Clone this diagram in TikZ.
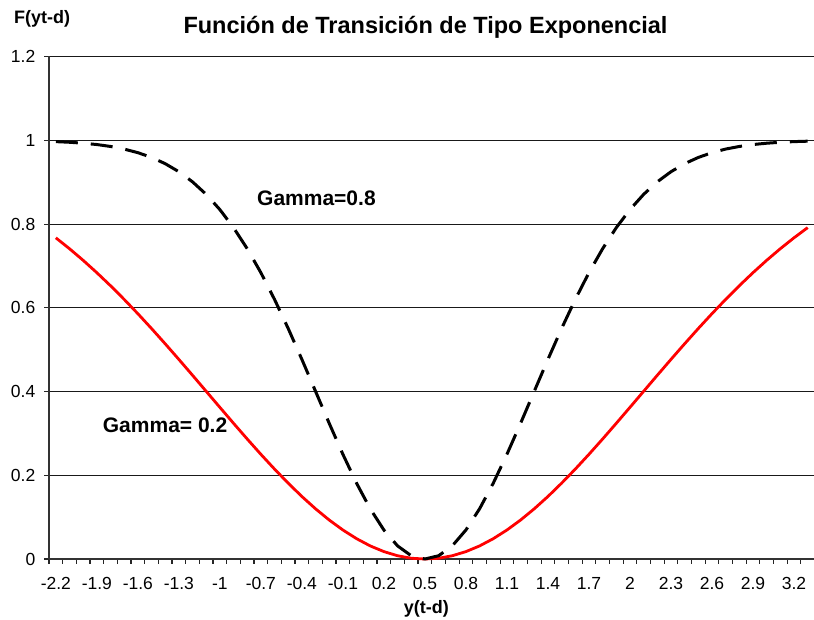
\documentclass[tikz,border=0pt]{standalone}
\usepackage{fontspec}
\setmainfont{Liberation Sans}
\begin{document}
\begin{tikzpicture}[x=1pt,y=-1pt,
  gridline/.style={line width=1.2pt,black!90},
  axisline/.style={line width=1.8pt,black!80},
  tickmark/.style={line width=1.2pt,black!85},
  ticklbl/.style={inner sep=0pt,font=\fontsize{17.5}{19}\selectfont},
  axtitle/.style={inner sep=0pt,font=\fontsize{18}{20}\selectfont\bfseries},
  serlbl/.style={inner sep=0pt,anchor=base west,font=\fontsize{21}{24}\selectfont\bfseries},
  redcurve/.style={red,line width=2.8pt,line join=round},
  dashcurve/.style={black,line width=3pt,line join=round,dash pattern=on 22pt off 13pt}]
\useasboundingbox (0,0) rectangle (814,620);
\fill[white] (0,0) rectangle (814,620);
% horizontal gridlines
\foreach \k in {1,...,6}
  \draw[gridline] (49,{559-83.72*\k}) -- (814,{559-83.72*\k});
% y ticks and labels
\foreach \k/\lab in {0/0,1/0.2,2/0.4,3/0.6,4/0.8,5/1,6/1.2} {
  \draw[tickmark] (44,{559-83.72*\k}) -- (49,{559-83.72*\k});
  \node[ticklbl,anchor=east] (yl\k) at (35.5,{559-83.72*\k}) {\lab};
}
% x ticks
\foreach \k in {0,...,56}
  \draw[tickmark] ({49+13.67*\k},559) -- ({49+13.67*\k},564);
% x labels
\foreach \i/\lab in {0/-2.2,3/-1.9,6/-1.6,9/-1.3,12/-1,15/-0.7,18/-0.4,21/-0.1,24/0.2,27/0.5,30/0.8,33/1.1,36/1.4,39/1.7,42/2,45/2.3,48/2.6,51/2.9,54/3.2}
  \node[ticklbl,anchor=base] (xl\i) at ({49+13.67*(\i+0.5)},589.5) {\lab};
% axes
\draw[axisline] (49,559) -- (49,56.5);
\draw[axisline] (49,559) -- (814,559);
% curves
\draw[redcurve] plot[domain=0:55,samples=56]
  ({55.835+13.67*\x},{559-418.6*(1-exp(-0.2*(0.1*\x-2.7)^2))});
\draw[dashcurve] plot[domain=0:55,samples=56]
  ({55.835+13.67*\x},{559-418.6*(1-exp(-0.8*(0.1*\x-2.7)^2))});
% texts
\node[inner sep=0pt,anchor=base,font=\fontsize{23.5}{26}\selectfont\bfseries] (title) at (425.5,33.3) {Función de Transición de Tipo Exponencial};
\node[axtitle,anchor=base west] (ytitle) at (14,23.5) {F(yt-d)};
\node[axtitle,anchor=base] (xtitle) at (426.3,613) {y(t-d)};
\node[serlbl] (g08) at (257,206) {Gamma=0.8};
\node[serlbl] (g02) at (102.7,432.3) {Gamma= 0.2};
\end{tikzpicture}
\end{document}
